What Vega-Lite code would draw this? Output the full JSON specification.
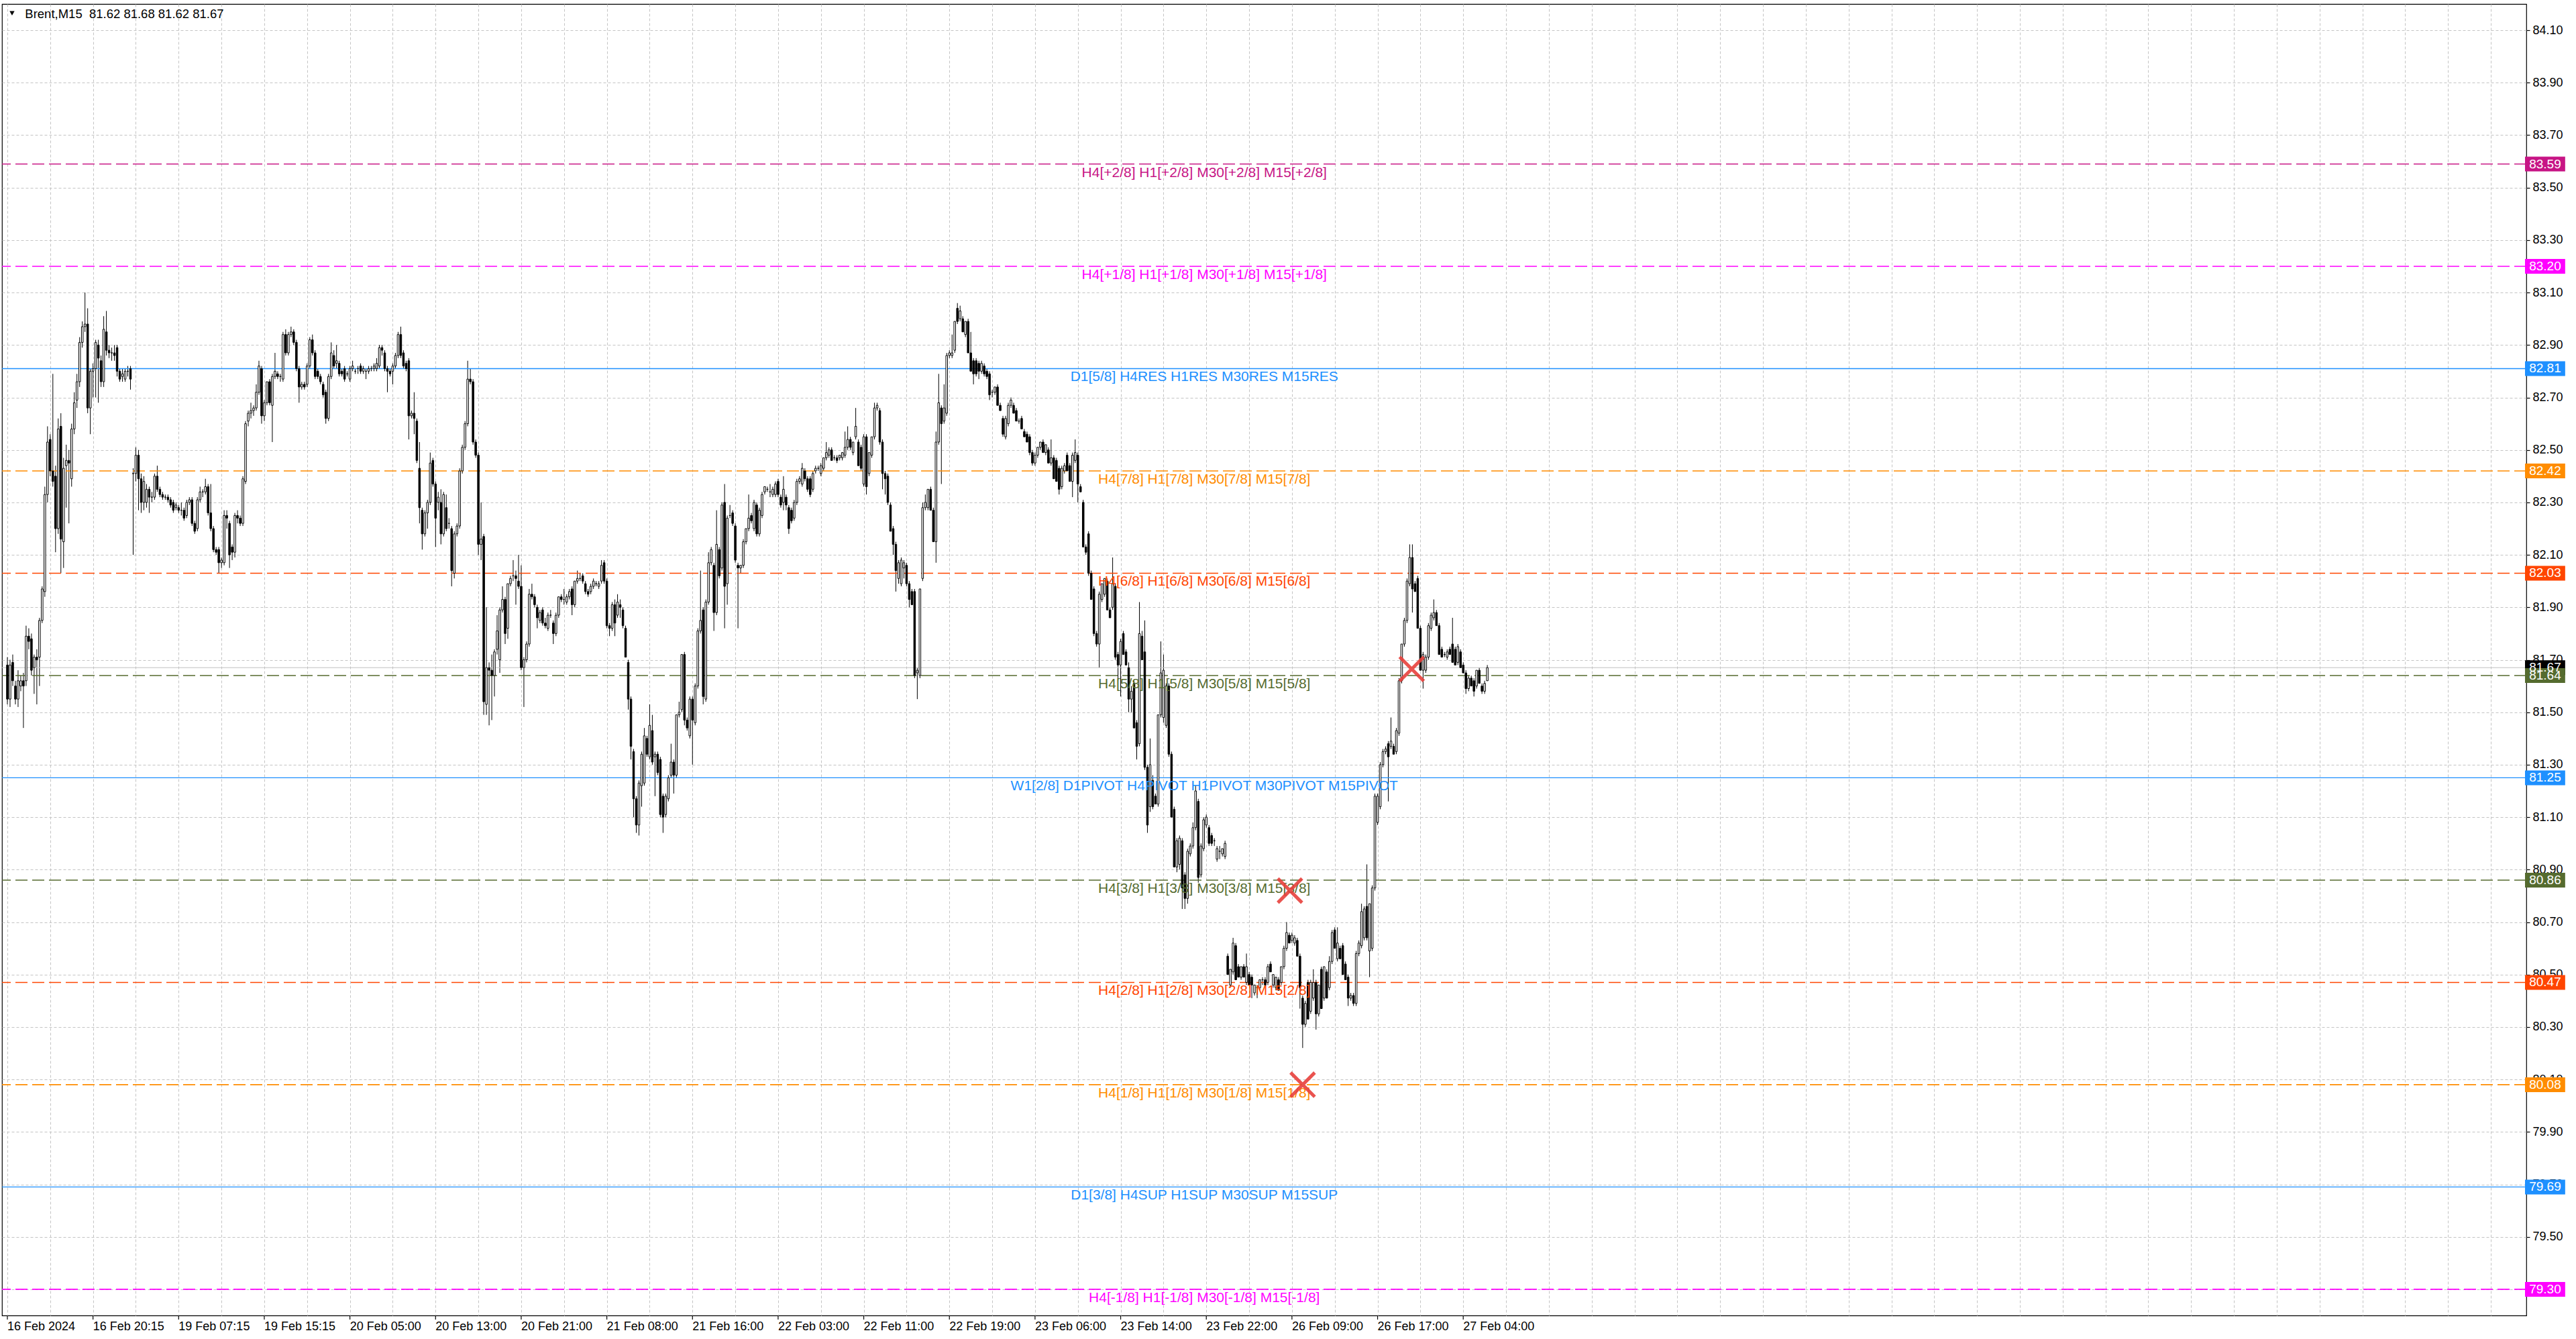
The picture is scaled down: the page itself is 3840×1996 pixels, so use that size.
{
"$schema":"https://vega.github.io/schema/vega-lite/v6.json",
"width":3763,"height":1955,
"autosize":{"type":"none"},
"padding":{"left":3,"top":6,"right":74,"bottom":35},
"background":"white",
"config":{"view":{"stroke":"black","strokeWidth":1.2},"font":"Liberation Sans",
 "axisX":{"title":null,"labels":false,"ticks":false,"domain":false,"grid":true,"gridColor":"#c4c4c4","gridDash":[4,3],"gridWidth":1},
 "axisY":{"title":null,"domain":false,"labelFontSize":18,"labelColor":"black","labelPadding":4,"labelOverlap":false,"labelFlush":false,"labelBound":false,"tickColor":"black","tickSize":5,"tickWidth":1.2,"grid":true,"gridColor":"#c4c4c4","gridDash":[4,3],"gridWidth":1}},
"datasets":{
"levels":[
{"lvl":"price","kind":"current","p":81.67,"label":""},
{"lvl":"+2/8","kind":"murrey","p":83.59,"label":"H4[+2/8] H1[+2/8] M30[+2/8] M15[+2/8]"},
{"lvl":"+1/8","kind":"murrey","p":83.20,"label":"H4[+1/8] H1[+1/8] M30[+1/8] M15[+1/8]"},
{"lvl":"RES","kind":"pivot","p":82.81,"label":"D1[5/8] H4RES H1RES M30RES M15RES"},
{"lvl":"7/8","kind":"murrey","p":82.42,"label":"H4[7/8] H1[7/8] M30[7/8] M15[7/8]"},
{"lvl":"6/8","kind":"murrey","p":82.03,"label":"H4[6/8] H1[6/8] M30[6/8] M15[6/8]"},
{"lvl":"5/8","kind":"murrey","p":81.64,"label":"H4[5/8] H1[5/8] M30[5/8] M15[5/8]"},
{"lvl":"PIVOT","kind":"pivot","p":81.25,"label":"W1[2/8] D1PIVOT H4PIVOT H1PIVOT M30PIVOT M15PIVOT"},
{"lvl":"3/8","kind":"murrey","p":80.86,"label":"H4[3/8] H1[3/8] M30[3/8] M15[3/8]"},
{"lvl":"2/8","kind":"murrey","p":80.47,"label":"H4[2/8] H1[2/8] M30[2/8] M15[2/8]"},
{"lvl":"1/8","kind":"murrey","p":80.08,"label":"H4[1/8] H1[1/8] M30[1/8] M15[1/8]"},
{"lvl":"SUP","kind":"pivot","p":79.69,"label":"D1[3/8] H4SUP H1SUP M30SUP M15SUP"},
{"lvl":"-1/8","kind":"murrey","p":79.30,"label":"H4[-1/8] H1[-1/8] M30[-1/8] M15[-1/8]"}
],
"signals":[{"i":479.25,"p":80.82},{"i":484,"p":80.08},{"i":524.75,"p":81.665}],
"ticks":[
{"t":0,"name":"16 Feb 2024"},{"t":32,"name":"16 Feb 20:15"},{"t":64,"name":"19 Feb 07:15"},{"t":96,"name":"19 Feb 15:15"},{"t":128,"name":"20 Feb 05:00"},{"t":160,"name":"20 Feb 13:00"},{"t":192,"name":"20 Feb 21:00"},{"t":224,"name":"21 Feb 08:00"},{"t":256,"name":"21 Feb 16:00"},{"t":288,"name":"22 Feb 03:00"},{"t":320,"name":"22 Feb 11:00"},{"t":352,"name":"22 Feb 19:00"},{"t":384,"name":"23 Feb 06:00"},{"t":416,"name":"23 Feb 14:00"},{"t":448,"name":"23 Feb 22:00"},{"t":480,"name":"26 Feb 09:00"},{"t":512,"name":"26 Feb 17:00"},{"t":544,"name":"27 Feb 04:00"}
],
"bars":[
{"i":0,"o":81.68,"h":81.71,"l":81.53,"c":81.55},
{"i":1,"o":81.55,"h":81.70,"l":81.52,"c":81.68},
{"i":2,"o":81.69,"h":81.72,"l":81.60,"c":81.62},
{"i":3,"o":81.60,"h":81.62,"l":81.53,"c":81.55},
{"i":4,"o":81.55,"h":81.66,"l":81.52,"c":81.62},
{"i":5,"o":81.60,"h":81.64,"l":81.58,"c":81.62},
{"i":6,"o":81.62,"h":81.65,"l":81.44,"c":81.60},
{"i":7,"o":81.62,"h":81.83,"l":81.60,"c":81.79},
{"i":8,"o":81.79,"h":81.82,"l":81.74,"c":81.77},
{"i":9,"o":81.78,"h":81.80,"l":81.64,"c":81.66},
{"i":10,"o":81.67,"h":81.72,"l":81.57,"c":81.71},
{"i":11,"o":81.71,"h":81.74,"l":81.53,"c":81.70},
{"i":12,"o":81.71,"h":81.86,"l":81.60,"c":81.85},
{"i":13,"o":81.85,"h":81.98,"l":81.84,"c":81.97},
{"i":14,"o":81.96,"h":82.36,"l":81.94,"c":82.33},
{"i":15,"o":82.33,"h":82.59,"l":82.30,"c":82.53},
{"i":16,"o":82.54,"h":82.56,"l":82.40,"c":82.42},
{"i":17,"o":82.42,"h":82.79,"l":82.36,"c":82.38},
{"i":18,"o":82.40,"h":82.44,"l":82.11,"c":82.20},
{"i":19,"o":82.20,"h":82.62,"l":82.18,"c":82.58},
{"i":20,"o":82.59,"h":82.64,"l":82.03,"c":82.16},
{"i":21,"o":82.15,"h":82.47,"l":82.05,"c":82.43},
{"i":22,"o":82.44,"h":82.52,"l":82.28,"c":82.46},
{"i":23,"o":82.46,"h":82.50,"l":82.22,"c":82.45},
{"i":24,"o":82.39,"h":82.60,"l":82.36,"c":82.58},
{"i":25,"o":82.58,"h":82.72,"l":82.56,"c":82.68},
{"i":26,"o":82.69,"h":82.79,"l":82.66,"c":82.76},
{"i":27,"o":82.76,"h":82.93,"l":82.74,"c":82.91},
{"i":28,"o":82.91,"h":82.99,"l":82.89,"c":82.97},
{"i":29,"o":82.97,"h":83.10,"l":82.95,"c":82.98},
{"i":30,"o":82.98,"h":83.04,"l":82.64,"c":82.66},
{"i":31,"o":82.66,"h":82.81,"l":82.56,"c":82.80},
{"i":32,"o":82.80,"h":82.83,"l":82.70,"c":82.81},
{"i":33,"o":82.81,"h":82.92,"l":82.70,"c":82.91},
{"i":34,"o":82.90,"h":82.92,"l":82.68,"c":82.85},
{"i":35,"o":82.84,"h":82.86,"l":82.74,"c":82.76},
{"i":36,"o":82.76,"h":83.01,"l":82.74,"c":82.96},
{"i":37,"o":82.95,"h":83.03,"l":82.86,"c":82.88},
{"i":38,"o":82.88,"h":82.90,"l":82.85,"c":82.87},
{"i":39,"o":82.87,"h":82.89,"l":82.84,"c":82.87},
{"i":40,"o":82.87,"h":82.90,"l":82.84,"c":82.86},
{"i":41,"o":82.89,"h":82.90,"l":82.78,"c":82.80},
{"i":42,"o":82.80,"h":82.81,"l":82.76,"c":82.77},
{"i":43,"o":82.78,"h":82.81,"l":82.76,"c":82.79},
{"i":44,"o":82.77,"h":82.81,"l":82.76,"c":82.80},
{"i":45,"o":82.80,"h":82.82,"l":82.78,"c":82.80},
{"i":46,"o":82.81,"h":82.82,"l":82.73,"c":82.77},
{"i":47,"o":82.41,"h":82.43,"l":82.10,"c":82.41},
{"i":48,"o":82.41,"h":82.51,"l":82.38,"c":82.48},
{"i":49,"o":82.48,"h":82.50,"l":82.27,"c":82.39},
{"i":50,"o":82.39,"h":82.41,"l":82.26,"c":82.30},
{"i":51,"o":82.30,"h":82.40,"l":82.27,"c":82.38},
{"i":52,"o":82.30,"h":82.37,"l":82.28,"c":82.35},
{"i":53,"o":82.35,"h":82.36,"l":82.26,"c":82.32},
{"i":54,"o":82.32,"h":82.34,"l":82.30,"c":82.32},
{"i":55,"o":82.32,"h":82.41,"l":82.31,"c":82.40},
{"i":56,"o":82.40,"h":82.44,"l":82.34,"c":82.35},
{"i":57,"o":82.35,"h":82.36,"l":82.32,"c":82.33},
{"i":58,"o":82.33,"h":82.34,"l":82.31,"c":82.32},
{"i":59,"o":82.32,"h":82.33,"l":82.31,"c":82.32},
{"i":60,"o":82.32,"h":82.33,"l":82.30,"c":82.31},
{"i":61,"o":82.31,"h":82.32,"l":82.28,"c":82.29},
{"i":62,"o":82.30,"h":82.31,"l":82.26,"c":82.27},
{"i":63,"o":82.28,"h":82.30,"l":82.27,"c":82.29},
{"i":64,"o":82.28,"h":82.29,"l":82.26,"c":82.27},
{"i":65,"o":82.27,"h":82.30,"l":82.25,"c":82.27},
{"i":66,"o":82.27,"h":82.28,"l":82.23,"c":82.24},
{"i":67,"o":82.25,"h":82.31,"l":82.24,"c":82.30},
{"i":68,"o":82.30,"h":82.32,"l":82.29,"c":82.31},
{"i":69,"o":82.31,"h":82.32,"l":82.21,"c":82.22},
{"i":70,"o":82.22,"h":82.23,"l":82.18,"c":82.19},
{"i":71,"o":82.20,"h":82.32,"l":82.19,"c":82.31},
{"i":72,"o":82.31,"h":82.36,"l":82.30,"c":82.34},
{"i":73,"o":82.34,"h":82.35,"l":82.32,"c":82.34},
{"i":74,"o":82.34,"h":82.39,"l":82.33,"c":82.36},
{"i":75,"o":82.36,"h":82.37,"l":82.25,"c":82.26},
{"i":76,"o":82.26,"h":82.37,"l":82.19,"c":82.20},
{"i":77,"o":82.20,"h":82.21,"l":82.11,"c":82.12},
{"i":78,"o":82.12,"h":82.13,"l":82.10,"c":82.11},
{"i":79,"o":82.12,"h":82.13,"l":82.03,"c":82.07},
{"i":80,"o":82.07,"h":82.09,"l":82.05,"c":82.08},
{"i":81,"o":82.07,"h":82.27,"l":82.06,"c":82.25},
{"i":82,"o":82.25,"h":82.27,"l":82.20,"c":82.24},
{"i":83,"o":82.22,"h":82.23,"l":82.05,"c":82.10},
{"i":84,"o":82.13,"h":82.14,"l":82.08,"c":82.11},
{"i":85,"o":82.11,"h":82.26,"l":82.09,"c":82.25},
{"i":86,"o":82.25,"h":82.27,"l":82.22,"c":82.24},
{"i":87,"o":82.24,"h":82.25,"l":82.21,"c":82.22},
{"i":88,"o":82.22,"h":82.40,"l":82.21,"c":82.39},
{"i":89,"o":82.38,"h":82.61,"l":82.37,"c":82.60},
{"i":90,"o":82.61,"h":82.65,"l":82.59,"c":82.64},
{"i":91,"o":82.64,"h":82.68,"l":82.62,"c":82.65},
{"i":92,"o":82.65,"h":82.67,"l":82.63,"c":82.66},
{"i":93,"o":82.66,"h":82.75,"l":82.65,"c":82.72},
{"i":94,"o":82.72,"h":82.84,"l":82.71,"c":82.82},
{"i":95,"o":82.81,"h":82.82,"l":82.60,"c":82.63},
{"i":96,"o":82.63,"h":82.69,"l":82.61,"c":82.68},
{"i":97,"o":82.68,"h":82.76,"l":82.67,"c":82.76},
{"i":98,"o":82.76,"h":82.77,"l":82.67,"c":82.68},
{"i":99,"o":82.67,"h":82.79,"l":82.53,"c":82.78},
{"i":100,"o":82.78,"h":82.87,"l":82.77,"c":82.80},
{"i":101,"o":82.79,"h":82.80,"l":82.77,"c":82.78},
{"i":102,"o":82.78,"h":82.79,"l":82.76,"c":82.78},
{"i":103,"o":82.77,"h":82.95,"l":82.76,"c":82.94},
{"i":104,"o":82.94,"h":82.96,"l":82.86,"c":82.87},
{"i":105,"o":82.87,"h":82.95,"l":82.86,"c":82.94},
{"i":106,"o":82.94,"h":82.97,"l":82.93,"c":82.95},
{"i":107,"o":82.95,"h":82.96,"l":82.90,"c":82.91},
{"i":108,"o":82.91,"h":82.92,"l":82.80,"c":82.81},
{"i":109,"o":82.81,"h":82.82,"l":82.68,"c":82.74},
{"i":110,"o":82.74,"h":82.76,"l":82.73,"c":82.75},
{"i":111,"o":82.75,"h":82.76,"l":82.73,"c":82.74},
{"i":112,"o":82.75,"h":82.83,"l":82.74,"c":82.82},
{"i":113,"o":82.82,"h":82.93,"l":82.81,"c":82.92},
{"i":114,"o":82.92,"h":82.94,"l":82.86,"c":82.87},
{"i":115,"o":82.87,"h":82.88,"l":82.77,"c":82.78},
{"i":116,"o":82.80,"h":82.81,"l":82.77,"c":82.78},
{"i":117,"o":82.78,"h":82.79,"l":82.75,"c":82.76},
{"i":118,"o":82.75,"h":82.76,"l":82.70,"c":82.71},
{"i":119,"o":82.72,"h":82.73,"l":82.60,"c":82.62},
{"i":120,"o":82.62,"h":82.79,"l":82.61,"c":82.78},
{"i":121,"o":82.78,"h":82.91,"l":82.77,"c":82.87},
{"i":122,"o":82.86,"h":82.88,"l":82.81,"c":82.82},
{"i":123,"o":82.83,"h":82.90,"l":82.81,"c":82.84},
{"i":124,"o":82.83,"h":82.84,"l":82.78,"c":82.79},
{"i":125,"o":82.80,"h":82.81,"l":82.78,"c":82.79},
{"i":126,"o":82.81,"h":82.82,"l":82.76,"c":82.77},
{"i":127,"o":82.79,"h":82.80,"l":82.78,"c":82.79},
{"i":128,"o":82.77,"h":82.82,"l":82.76,"c":82.81},
{"i":129,"o":82.81,"h":82.84,"l":82.80,"c":82.82},
{"i":130,"o":82.80,"h":82.81,"l":82.79,"c":82.80},
{"i":131,"o":82.81,"h":82.82,"l":82.79,"c":82.81},
{"i":132,"o":82.82,"h":82.83,"l":82.79,"c":82.80},
{"i":133,"o":82.80,"h":82.82,"l":82.79,"c":82.81},
{"i":134,"o":82.80,"h":82.81,"l":82.77,"c":82.80},
{"i":135,"o":82.80,"h":82.82,"l":82.79,"c":82.81},
{"i":136,"o":82.81,"h":82.82,"l":82.80,"c":82.81},
{"i":137,"o":82.81,"h":82.83,"l":82.80,"c":82.82},
{"i":138,"o":82.81,"h":82.85,"l":82.80,"c":82.83},
{"i":139,"o":82.82,"h":82.90,"l":82.81,"c":82.89},
{"i":140,"o":82.89,"h":82.90,"l":82.86,"c":82.88},
{"i":141,"o":82.87,"h":82.88,"l":82.80,"c":82.81},
{"i":142,"o":82.81,"h":82.82,"l":82.72,"c":82.80},
{"i":143,"o":82.80,"h":82.81,"l":82.78,"c":82.79},
{"i":144,"o":82.80,"h":82.83,"l":82.75,"c":82.82},
{"i":145,"o":82.82,"h":82.87,"l":82.81,"c":82.86},
{"i":146,"o":82.86,"h":82.95,"l":82.85,"c":82.94},
{"i":147,"o":82.94,"h":82.97,"l":82.85,"c":82.86},
{"i":148,"o":82.87,"h":82.88,"l":82.81,"c":82.82},
{"i":149,"o":82.83,"h":82.84,"l":82.80,"c":82.81},
{"i":150,"o":82.84,"h":82.85,"l":82.54,"c":82.63},
{"i":151,"o":82.63,"h":82.65,"l":82.62,"c":82.64},
{"i":152,"o":82.64,"h":82.72,"l":82.56,"c":82.62},
{"i":153,"o":82.61,"h":82.62,"l":82.45,"c":82.46},
{"i":154,"o":82.43,"h":82.53,"l":82.22,"c":82.28},
{"i":155,"o":82.27,"h":82.28,"l":82.12,"c":82.18},
{"i":156,"o":82.18,"h":82.27,"l":82.17,"c":82.26},
{"i":157,"o":82.26,"h":82.31,"l":82.20,"c":82.30},
{"i":158,"o":82.30,"h":82.49,"l":82.29,"c":82.45},
{"i":159,"o":82.46,"h":82.47,"l":82.36,"c":82.37},
{"i":160,"o":82.37,"h":82.38,"l":82.13,"c":82.24},
{"i":161,"o":82.30,"h":82.34,"l":82.27,"c":82.32},
{"i":162,"o":82.30,"h":82.35,"l":82.14,"c":82.18},
{"i":163,"o":82.18,"h":82.34,"l":82.17,"c":82.33},
{"i":164,"o":82.28,"h":82.33,"l":82.19,"c":82.20},
{"i":165,"o":82.22,"h":82.24,"l":82.20,"c":82.22},
{"i":166,"o":82.20,"h":82.21,"l":81.98,"c":82.04},
{"i":167,"o":82.03,"h":82.19,"l":82.01,"c":82.18},
{"i":168,"o":82.18,"h":82.22,"l":82.17,"c":82.21},
{"i":169,"o":82.21,"h":82.43,"l":82.20,"c":82.42},
{"i":170,"o":82.42,"h":82.52,"l":82.41,"c":82.51},
{"i":171,"o":82.51,"h":82.61,"l":82.50,"c":82.60},
{"i":172,"o":82.60,"h":82.84,"l":82.59,"c":82.77},
{"i":173,"o":82.77,"h":82.81,"l":82.75,"c":82.76},
{"i":174,"o":82.76,"h":82.77,"l":82.52,"c":82.53},
{"i":175,"o":82.53,"h":82.54,"l":82.47,"c":82.48},
{"i":176,"o":82.48,"h":82.49,"l":82.10,"c":82.14},
{"i":177,"o":82.14,"h":82.30,"l":82.08,"c":82.16},
{"i":178,"o":82.17,"h":82.18,"l":81.49,"c":81.54},
{"i":179,"o":81.53,"h":81.90,"l":81.49,"c":81.67},
{"i":180,"o":81.67,"h":81.69,"l":81.45,"c":81.66},
{"i":181,"o":81.66,"h":81.72,"l":81.47,"c":81.64},
{"i":182,"o":81.64,"h":81.74,"l":81.56,"c":81.73},
{"i":183,"o":81.74,"h":81.87,"l":81.72,"c":81.81},
{"i":184,"o":81.70,"h":81.90,"l":81.65,"c":81.89},
{"i":185,"o":81.89,"h":81.98,"l":81.88,"c":81.93},
{"i":186,"o":81.93,"h":81.94,"l":81.76,"c":81.80},
{"i":187,"o":81.82,"h":81.99,"l":81.78,"c":81.99},
{"i":188,"o":81.99,"h":82.02,"l":81.98,"c":82.01},
{"i":189,"o":82.02,"h":82.08,"l":82.00,"c":82.02},
{"i":190,"o":82.02,"h":82.04,"l":81.91,"c":82.01},
{"i":191,"o":82.00,"h":82.10,"l":81.97,"c":81.98},
{"i":192,"o":81.98,"h":82.06,"l":81.66,"c":81.67},
{"i":193,"o":81.67,"h":81.71,"l":81.52,"c":81.70},
{"i":194,"o":81.70,"h":81.77,"l":81.69,"c":81.76},
{"i":195,"o":81.76,"h":81.97,"l":81.75,"c":81.95},
{"i":196,"o":81.95,"h":81.99,"l":81.93,"c":81.94},
{"i":197,"o":81.94,"h":81.95,"l":81.90,"c":81.91},
{"i":198,"o":81.90,"h":81.91,"l":81.82,"c":81.86},
{"i":199,"o":81.85,"h":81.89,"l":81.84,"c":81.88},
{"i":200,"o":81.89,"h":81.90,"l":81.83,"c":81.84},
{"i":201,"o":81.84,"h":81.86,"l":81.82,"c":81.83},
{"i":202,"o":81.82,"h":81.88,"l":81.81,"c":81.87},
{"i":203,"o":81.87,"h":81.89,"l":81.86,"c":81.87},
{"i":204,"o":81.84,"h":81.85,"l":81.76,"c":81.80},
{"i":205,"o":81.80,"h":81.88,"l":81.79,"c":81.87},
{"i":206,"o":81.87,"h":81.94,"l":81.86,"c":81.94},
{"i":207,"o":81.94,"h":81.95,"l":81.92,"c":81.93},
{"i":208,"o":81.93,"h":81.97,"l":81.91,"c":81.93},
{"i":209,"o":81.92,"h":81.95,"l":81.91,"c":81.94},
{"i":210,"o":81.94,"h":81.97,"l":81.93,"c":81.96},
{"i":211,"o":81.97,"h":81.98,"l":81.87,"c":81.91},
{"i":212,"o":81.91,"h":82.00,"l":81.90,"c":82.00},
{"i":213,"o":82.00,"h":82.04,"l":81.99,"c":82.01},
{"i":214,"o":82.01,"h":82.03,"l":82.00,"c":82.01},
{"i":215,"o":82.02,"h":82.03,"l":81.99,"c":82.00},
{"i":216,"o":81.99,"h":82.00,"l":81.95,"c":81.96},
{"i":217,"o":81.96,"h":81.97,"l":81.94,"c":81.95},
{"i":218,"o":81.96,"h":81.99,"l":81.95,"c":81.98},
{"i":219,"o":81.98,"h":82.01,"l":81.97,"c":82.00},
{"i":220,"o":81.99,"h":82.00,"l":81.98,"c":81.99},
{"i":221,"o":81.98,"h":82.00,"l":81.97,"c":81.99},
{"i":222,"o":82.00,"h":82.08,"l":81.99,"c":82.06},
{"i":223,"o":82.07,"h":82.08,"l":81.99,"c":82.00},
{"i":224,"o":82.00,"h":82.01,"l":81.82,"c":81.83},
{"i":225,"o":81.83,"h":81.84,"l":81.79,"c":81.82},
{"i":226,"o":81.82,"h":81.92,"l":81.81,"c":81.91},
{"i":227,"o":81.91,"h":81.93,"l":81.79,"c":81.84},
{"i":228,"o":81.87,"h":81.95,"l":81.86,"c":81.92},
{"i":229,"o":81.91,"h":81.93,"l":81.86,"c":81.90},
{"i":230,"o":81.89,"h":81.90,"l":81.82,"c":81.83},
{"i":231,"o":81.82,"h":81.83,"l":81.71,"c":81.71},
{"i":232,"o":81.69,"h":81.70,"l":81.51,"c":81.55},
{"i":233,"o":81.55,"h":81.56,"l":81.32,"c":81.37},
{"i":234,"o":81.35,"h":81.36,"l":81.10,"c":81.17},
{"i":235,"o":81.17,"h":81.18,"l":81.04,"c":81.07},
{"i":236,"o":81.07,"h":81.24,"l":81.03,"c":81.23},
{"i":237,"o":81.22,"h":81.35,"l":81.14,"c":81.34},
{"i":238,"o":81.23,"h":81.44,"l":81.22,"c":81.41},
{"i":239,"o":81.40,"h":81.41,"l":81.33,"c":81.34},
{"i":240,"o":81.33,"h":81.53,"l":81.32,"c":81.45},
{"i":241,"o":81.43,"h":81.49,"l":81.30,"c":81.31},
{"i":242,"o":81.33,"h":81.35,"l":81.18,"c":81.34},
{"i":243,"o":81.34,"h":81.35,"l":81.26,"c":81.27},
{"i":244,"o":81.32,"h":81.33,"l":81.10,"c":81.11},
{"i":245,"o":81.18,"h":81.19,"l":81.04,"c":81.10},
{"i":246,"o":81.11,"h":81.19,"l":81.10,"c":81.18},
{"i":247,"o":81.17,"h":81.26,"l":81.16,"c":81.25},
{"i":248,"o":81.26,"h":81.38,"l":81.25,"c":81.31},
{"i":249,"o":81.31,"h":81.32,"l":81.19,"c":81.26},
{"i":250,"o":81.26,"h":81.49,"l":81.25,"c":81.49},
{"i":251,"o":81.49,"h":81.54,"l":81.48,"c":81.50},
{"i":252,"o":81.51,"h":81.72,"l":81.50,"c":81.72},
{"i":253,"o":81.72,"h":81.73,"l":81.45,"c":81.47},
{"i":254,"o":81.47,"h":81.48,"l":81.43,"c":81.44},
{"i":255,"o":81.41,"h":81.56,"l":81.40,"c":81.55},
{"i":256,"o":81.55,"h":81.56,"l":81.30,"c":81.47},
{"i":257,"o":81.46,"h":81.61,"l":81.45,"c":81.60},
{"i":258,"o":81.60,"h":81.82,"l":81.59,"c":81.81},
{"i":259,"o":81.81,"h":82.04,"l":81.80,"c":81.85},
{"i":260,"o":81.89,"h":81.90,"l":81.53,"c":81.56},
{"i":261,"o":81.55,"h":81.93,"l":81.54,"c":81.92},
{"i":262,"o":81.92,"h":82.11,"l":81.91,"c":82.07},
{"i":263,"o":82.07,"h":82.13,"l":82.06,"c":82.12},
{"i":264,"o":82.06,"h":82.07,"l":81.81,"c":81.88},
{"i":265,"o":81.88,"h":82.27,"l":81.87,"c":82.14},
{"i":266,"o":82.12,"h":82.13,"l":82.01,"c":82.02},
{"i":267,"o":82.05,"h":82.30,"l":82.04,"c":82.29},
{"i":268,"o":82.30,"h":82.37,"l":81.82,"c":81.98},
{"i":269,"o":81.99,"h":82.25,"l":81.91,"c":82.24},
{"i":270,"o":82.25,"h":82.29,"l":82.24,"c":82.25},
{"i":271,"o":82.26,"h":82.27,"l":82.21,"c":82.22},
{"i":272,"o":82.21,"h":82.22,"l":82.07,"c":82.08},
{"i":273,"o":82.06,"h":82.07,"l":81.82,"c":82.05},
{"i":274,"o":82.05,"h":82.06,"l":82.03,"c":82.06},
{"i":275,"o":82.06,"h":82.16,"l":82.05,"c":82.15},
{"i":276,"o":82.15,"h":82.20,"l":82.14,"c":82.20},
{"i":277,"o":82.20,"h":82.33,"l":82.19,"c":82.24},
{"i":278,"o":82.25,"h":82.26,"l":82.22,"c":82.23},
{"i":279,"o":82.20,"h":82.31,"l":82.19,"c":82.30},
{"i":280,"o":82.29,"h":82.30,"l":82.17,"c":82.18},
{"i":281,"o":82.18,"h":82.28,"l":82.17,"c":82.27},
{"i":282,"o":82.25,"h":82.34,"l":82.24,"c":82.33},
{"i":283,"o":82.34,"h":82.36,"l":82.33,"c":82.36},
{"i":284,"o":82.35,"h":82.36,"l":82.34,"c":82.35},
{"i":285,"o":82.34,"h":82.37,"l":82.32,"c":82.34},
{"i":286,"o":82.33,"h":82.36,"l":82.32,"c":82.35},
{"i":287,"o":82.33,"h":82.38,"l":82.32,"c":82.37},
{"i":288,"o":82.38,"h":82.39,"l":82.32,"c":82.33},
{"i":289,"o":82.32,"h":82.33,"l":82.28,"c":82.29},
{"i":290,"o":82.30,"h":82.40,"l":82.27,"c":82.35},
{"i":291,"o":82.32,"h":82.33,"l":82.27,"c":82.29},
{"i":292,"o":82.28,"h":82.29,"l":82.18,"c":82.20},
{"i":293,"o":82.27,"h":82.28,"l":82.22,"c":82.23},
{"i":294,"o":82.24,"h":82.31,"l":82.23,"c":82.30},
{"i":295,"o":82.30,"h":82.39,"l":82.29,"c":82.38},
{"i":296,"o":82.38,"h":82.40,"l":82.37,"c":82.39},
{"i":297,"o":82.37,"h":82.45,"l":82.36,"c":82.43},
{"i":298,"o":82.42,"h":82.43,"l":82.38,"c":82.39},
{"i":299,"o":82.39,"h":82.40,"l":82.34,"c":82.35},
{"i":300,"o":82.39,"h":82.40,"l":82.32,"c":82.33},
{"i":301,"o":82.35,"h":82.42,"l":82.34,"c":82.41},
{"i":302,"o":82.42,"h":82.44,"l":82.41,"c":82.43},
{"i":303,"o":82.43,"h":82.44,"l":82.42,"c":82.43},
{"i":304,"o":82.41,"h":82.45,"l":82.40,"c":82.44},
{"i":305,"o":82.43,"h":82.47,"l":82.42,"c":82.47},
{"i":306,"o":82.47,"h":82.53,"l":82.46,"c":82.49},
{"i":307,"o":82.48,"h":82.51,"l":82.47,"c":82.50},
{"i":308,"o":82.50,"h":82.51,"l":82.46,"c":82.46},
{"i":309,"o":82.47,"h":82.48,"l":82.46,"c":82.47},
{"i":310,"o":82.47,"h":82.48,"l":82.45,"c":82.46},
{"i":311,"o":82.47,"h":82.48,"l":82.46,"c":82.48},
{"i":312,"o":82.47,"h":82.49,"l":82.46,"c":82.49},
{"i":313,"o":82.48,"h":82.57,"l":82.47,"c":82.51},
{"i":314,"o":82.51,"h":82.59,"l":82.50,"c":82.54},
{"i":315,"o":82.54,"h":82.55,"l":82.50,"c":82.51},
{"i":316,"o":82.49,"h":82.53,"l":82.48,"c":82.53},
{"i":317,"o":82.55,"h":82.66,"l":82.54,"c":82.59},
{"i":318,"o":82.53,"h":82.54,"l":82.44,"c":82.44},
{"i":319,"o":82.51,"h":82.52,"l":82.42,"c":82.43},
{"i":320,"o":82.37,"h":82.56,"l":82.36,"c":82.55},
{"i":321,"o":82.55,"h":82.56,"l":82.33,"c":82.36},
{"i":322,"o":82.41,"h":82.49,"l":82.40,"c":82.49},
{"i":323,"o":82.48,"h":82.55,"l":82.47,"c":82.55},
{"i":324,"o":82.55,"h":82.68,"l":82.54,"c":82.66},
{"i":325,"o":82.66,"h":82.68,"l":82.65,"c":82.67},
{"i":326,"o":82.65,"h":82.66,"l":82.52,"c":82.53},
{"i":327,"o":82.53,"h":82.54,"l":82.35,"c":82.41},
{"i":328,"o":82.41,"h":82.42,"l":82.33,"c":82.39},
{"i":329,"o":82.40,"h":82.41,"l":82.29,"c":82.30},
{"i":330,"o":82.29,"h":82.30,"l":82.19,"c":82.19},
{"i":331,"o":82.20,"h":82.21,"l":82.10,"c":82.14},
{"i":332,"o":82.14,"h":82.15,"l":81.96,"c":82.04},
{"i":333,"o":82.01,"h":82.08,"l":81.99,"c":82.07},
{"i":334,"o":81.99,"h":82.09,"l":81.98,"c":82.08},
{"i":335,"o":82.05,"h":82.08,"l":82.01,"c":82.07},
{"i":336,"o":82.06,"h":82.07,"l":81.98,"c":81.99},
{"i":337,"o":81.99,"h":82.00,"l":81.90,"c":81.93},
{"i":338,"o":81.96,"h":81.97,"l":81.91,"c":81.91},
{"i":339,"o":81.96,"h":81.97,"l":81.63,"c":81.64},
{"i":340,"o":81.65,"h":81.67,"l":81.55,"c":81.66},
{"i":341,"o":81.64,"h":81.97,"l":81.63,"c":81.97},
{"i":342,"o":82.01,"h":82.30,"l":82.00,"c":82.28},
{"i":343,"o":82.28,"h":82.33,"l":82.27,"c":82.30},
{"i":344,"o":82.28,"h":82.35,"l":82.27,"c":82.35},
{"i":345,"o":82.35,"h":82.36,"l":82.27,"c":82.27},
{"i":346,"o":82.27,"h":82.28,"l":82.15,"c":82.15},
{"i":347,"o":82.15,"h":82.57,"l":82.07,"c":82.53},
{"i":348,"o":82.53,"h":82.79,"l":82.52,"c":82.68},
{"i":349,"o":82.66,"h":82.67,"l":82.37,"c":82.60},
{"i":350,"o":82.61,"h":82.75,"l":82.60,"c":82.66},
{"i":351,"o":82.64,"h":82.87,"l":82.63,"c":82.86},
{"i":352,"o":82.86,"h":82.88,"l":82.85,"c":82.87},
{"i":353,"o":82.86,"h":82.94,"l":82.85,"c":82.87},
{"i":354,"o":82.88,"h":82.99,"l":82.87,"c":82.99},
{"i":355,"o":83.04,"h":83.06,"l":82.98,"c":82.99},
{"i":356,"o":83.00,"h":83.05,"l":82.99,"c":83.03},
{"i":357,"o":83.00,"h":83.01,"l":82.95,"c":82.95},
{"i":358,"o":82.94,"h":82.99,"l":82.93,"c":82.99},
{"i":359,"o":82.99,"h":83.00,"l":82.87,"c":82.87},
{"i":360,"o":82.87,"h":82.95,"l":82.80,"c":82.80},
{"i":361,"o":82.84,"h":82.85,"l":82.75,"c":82.79},
{"i":362,"o":82.84,"h":82.85,"l":82.78,"c":82.79},
{"i":363,"o":82.83,"h":82.84,"l":82.77,"c":82.80},
{"i":364,"o":82.80,"h":82.84,"l":82.79,"c":82.83},
{"i":365,"o":82.82,"h":82.83,"l":82.78,"c":82.79},
{"i":366,"o":82.80,"h":82.81,"l":82.77,"c":82.78},
{"i":367,"o":82.79,"h":82.80,"l":82.69,"c":82.71},
{"i":368,"o":82.72,"h":82.73,"l":82.70,"c":82.72},
{"i":369,"o":82.72,"h":82.74,"l":82.71,"c":82.74},
{"i":370,"o":82.74,"h":82.75,"l":82.67,"c":82.67},
{"i":371,"o":82.67,"h":82.68,"l":82.65,"c":82.65},
{"i":372,"o":82.62,"h":82.63,"l":82.55,"c":82.56},
{"i":373,"o":82.55,"h":82.63,"l":82.54,"c":82.62},
{"i":374,"o":82.60,"h":82.68,"l":82.59,"c":82.67},
{"i":375,"o":82.67,"h":82.70,"l":82.66,"c":82.69},
{"i":376,"o":82.67,"h":82.68,"l":82.64,"c":82.64},
{"i":377,"o":82.65,"h":82.66,"l":82.61,"c":82.61},
{"i":378,"o":82.61,"h":82.62,"l":82.60,"c":82.61},
{"i":379,"o":82.62,"h":82.63,"l":82.58,"c":82.58},
{"i":380,"o":82.57,"h":82.58,"l":82.55,"c":82.55},
{"i":381,"o":82.56,"h":82.57,"l":82.53,"c":82.53},
{"i":382,"o":82.55,"h":82.56,"l":82.48,"c":82.49},
{"i":383,"o":82.49,"h":82.50,"l":82.44,"c":82.45},
{"i":384,"o":82.45,"h":82.49,"l":82.44,"c":82.48},
{"i":385,"o":82.48,"h":82.51,"l":82.47,"c":82.51},
{"i":386,"o":82.51,"h":82.53,"l":82.50,"c":82.53},
{"i":387,"o":82.53,"h":82.54,"l":82.49,"c":82.49},
{"i":388,"o":82.49,"h":82.52,"l":82.48,"c":82.52},
{"i":389,"o":82.50,"h":82.51,"l":82.45,"c":82.45},
{"i":390,"o":82.45,"h":82.54,"l":82.44,"c":82.47},
{"i":391,"o":82.47,"h":82.48,"l":82.39,"c":82.39},
{"i":392,"o":82.46,"h":82.47,"l":82.38,"c":82.38},
{"i":393,"o":82.43,"h":82.44,"l":82.33,"c":82.35},
{"i":394,"o":82.36,"h":82.44,"l":82.35,"c":82.43},
{"i":395,"o":82.42,"h":82.45,"l":82.41,"c":82.44},
{"i":396,"o":82.48,"h":82.49,"l":82.42,"c":82.42},
{"i":397,"o":82.44,"h":82.45,"l":82.38,"c":82.38},
{"i":398,"o":82.38,"h":82.49,"l":82.32,"c":82.48},
{"i":399,"o":82.46,"h":82.54,"l":82.45,"c":82.49},
{"i":400,"o":82.48,"h":82.49,"l":82.30,"c":82.37},
{"i":401,"o":82.36,"h":82.37,"l":82.34,"c":82.34},
{"i":402,"o":82.30,"h":82.31,"l":82.13,"c":82.13},
{"i":403,"o":82.13,"h":82.14,"l":82.10,"c":82.11},
{"i":404,"o":82.18,"h":82.19,"l":82.02,"c":82.03},
{"i":405,"o":82.03,"h":82.04,"l":81.93,"c":81.93},
{"i":406,"o":81.97,"h":81.98,"l":81.79,"c":81.80},
{"i":407,"o":81.80,"h":81.81,"l":81.75,"c":81.76},
{"i":408,"o":81.76,"h":81.96,"l":81.67,"c":81.95},
{"i":409,"o":81.93,"h":81.99,"l":81.92,"c":81.99},
{"i":410,"o":81.95,"h":82.01,"l":81.94,"c":82.01},
{"i":411,"o":82.00,"h":82.01,"l":81.89,"c":81.89},
{"i":412,"o":81.89,"h":81.90,"l":81.86,"c":81.86},
{"i":413,"o":81.90,"h":82.09,"l":81.89,"c":81.99},
{"i":414,"o":81.98,"h":81.99,"l":81.70,"c":81.71},
{"i":415,"o":81.72,"h":81.73,"l":81.62,"c":81.68},
{"i":416,"o":81.68,"h":81.78,"l":81.56,"c":81.77},
{"i":417,"o":81.80,"h":81.81,"l":81.72,"c":81.72},
{"i":418,"o":81.73,"h":81.74,"l":81.68,"c":81.68},
{"i":419,"o":81.67,"h":81.69,"l":81.50,"c":81.55},
{"i":420,"o":81.55,"h":81.60,"l":81.50,"c":81.58},
{"i":421,"o":81.61,"h":81.62,"l":81.44,"c":81.44},
{"i":422,"o":81.46,"h":81.47,"l":81.32,"c":81.37},
{"i":423,"o":81.38,"h":81.92,"l":81.37,"c":81.80},
{"i":424,"o":81.79,"h":81.81,"l":81.70,"c":81.70},
{"i":425,"o":81.73,"h":81.85,"l":81.28,"c":81.29},
{"i":426,"o":81.29,"h":81.30,"l":81.04,"c":81.07},
{"i":427,"o":81.14,"h":81.40,"l":81.12,"c":81.30},
{"i":428,"o":81.24,"h":81.26,"l":81.13,"c":81.14},
{"i":429,"o":81.18,"h":81.19,"l":81.15,"c":81.15},
{"i":430,"o":81.15,"h":81.49,"l":81.14,"c":81.49},
{"i":431,"o":81.49,"h":81.77,"l":81.48,"c":81.65},
{"i":432,"o":81.48,"h":81.72,"l":81.46,"c":81.66},
{"i":433,"o":81.45,"h":81.61,"l":81.44,"c":81.60},
{"i":434,"o":81.60,"h":81.61,"l":81.33,"c":81.34},
{"i":435,"o":81.34,"h":81.35,"l":81.10,"c":81.10},
{"i":436,"o":81.13,"h":81.14,"l":80.91,"c":80.91},
{"i":437,"o":80.91,"h":81.02,"l":80.89,"c":81.01},
{"i":438,"o":80.92,"h":81.03,"l":80.90,"c":81.02},
{"i":439,"o":81.01,"h":81.02,"l":80.75,"c":80.83},
{"i":440,"o":80.88,"h":80.89,"l":80.75,"c":80.79},
{"i":441,"o":80.79,"h":80.98,"l":80.77,"c":80.97},
{"i":442,"o":80.96,"h":81.00,"l":80.95,"c":80.99},
{"i":443,"o":80.99,"h":81.08,"l":80.98,"c":81.06},
{"i":444,"o":81.06,"h":81.22,"l":81.05,"c":81.20},
{"i":445,"o":81.16,"h":81.17,"l":80.85,"c":80.87},
{"i":446,"o":80.88,"h":81.00,"l":80.87,"c":80.99},
{"i":447,"o":80.98,"h":81.10,"l":80.97,"c":81.09},
{"i":448,"o":81.07,"h":81.11,"l":81.06,"c":81.10},
{"i":449,"o":81.06,"h":81.07,"l":80.99,"c":81.00},
{"i":450,"o":81.03,"h":81.04,"l":80.99,"c":81.00},
{"i":451,"o":81.01,"h":81.02,"l":80.99,"c":81.01},
{"i":452,"o":80.94,"h":80.99,"l":80.93,"c":80.98},
{"i":453,"o":80.97,"h":80.99,"l":80.94,"c":80.97},
{"i":454,"o":80.96,"h":80.98,"l":80.95,"c":80.98},
{"i":455,"o":80.95,"h":81.01,"l":80.94,"c":81.00},
{"i":456,"o":80.57,"h":80.58,"l":80.50,"c":80.50},
{"i":457,"o":80.46,"h":80.52,"l":80.45,"c":80.52},
{"i":458,"o":80.51,"h":80.64,"l":80.50,"c":80.62},
{"i":459,"o":80.61,"h":80.62,"l":80.48,"c":80.48},
{"i":460,"o":80.53,"h":80.54,"l":80.49,"c":80.49},
{"i":461,"o":80.49,"h":80.53,"l":80.48,"c":80.53},
{"i":462,"o":80.53,"h":80.54,"l":80.49,"c":80.49},
{"i":463,"o":80.47,"h":80.58,"l":80.46,"c":80.53},
{"i":464,"o":80.50,"h":80.51,"l":80.46,"c":80.46},
{"i":465,"o":80.49,"h":80.50,"l":80.41,"c":80.46},
{"i":466,"o":80.43,"h":80.46,"l":80.42,"c":80.46},
{"i":467,"o":80.45,"h":80.46,"l":80.41,"c":80.45},
{"i":468,"o":80.45,"h":80.48,"l":80.44,"c":80.48},
{"i":469,"o":80.48,"h":80.49,"l":80.46,"c":80.48},
{"i":470,"o":80.48,"h":80.49,"l":80.46,"c":80.46},
{"i":471,"o":80.47,"h":80.54,"l":80.46,"c":80.53},
{"i":472,"o":80.54,"h":80.55,"l":80.51,"c":80.51},
{"i":473,"o":80.46,"h":80.50,"l":80.45,"c":80.50},
{"i":474,"o":80.45,"h":80.49,"l":80.44,"c":80.49},
{"i":475,"o":80.48,"h":80.49,"l":80.44,"c":80.44},
{"i":476,"o":80.47,"h":80.53,"l":80.46,"c":80.53},
{"i":477,"o":80.53,"h":80.61,"l":80.52,"c":80.60},
{"i":478,"o":80.60,"h":80.70,"l":80.59,"c":80.66},
{"i":479,"o":80.65,"h":80.66,"l":80.62,"c":80.62},
{"i":480,"o":80.63,"h":80.66,"l":80.62,"c":80.65},
{"i":481,"o":80.62,"h":80.65,"l":80.61,"c":80.64},
{"i":482,"o":80.63,"h":80.64,"l":80.57,"c":80.57},
{"i":483,"o":80.57,"h":80.58,"l":80.37,"c":80.45},
{"i":484,"o":80.41,"h":80.42,"l":80.22,"c":80.31},
{"i":485,"o":80.31,"h":80.40,"l":80.30,"c":80.39},
{"i":486,"o":80.47,"h":80.48,"l":80.33,"c":80.33},
{"i":487,"o":80.36,"h":80.48,"l":80.35,"c":80.47},
{"i":488,"o":80.41,"h":80.52,"l":80.40,"c":80.47},
{"i":489,"o":80.47,"h":80.48,"l":80.29,"c":80.35},
{"i":490,"o":80.35,"h":80.46,"l":80.34,"c":80.46},
{"i":491,"o":80.52,"h":80.53,"l":80.37,"c":80.37},
{"i":492,"o":80.41,"h":80.53,"l":80.40,"c":80.53},
{"i":493,"o":80.51,"h":80.52,"l":80.41,"c":80.41},
{"i":494,"o":80.45,"h":80.57,"l":80.44,"c":80.55},
{"i":495,"o":80.55,"h":80.67,"l":80.54,"c":80.66},
{"i":496,"o":80.67,"h":80.68,"l":80.60,"c":80.60},
{"i":497,"o":80.56,"h":80.68,"l":80.55,"c":80.62},
{"i":498,"o":80.60,"h":80.61,"l":80.56,"c":80.56},
{"i":499,"o":80.61,"h":80.62,"l":80.50,"c":80.50},
{"i":500,"o":80.54,"h":80.55,"l":80.48,"c":80.48},
{"i":501,"o":80.49,"h":80.50,"l":80.38,"c":80.41},
{"i":502,"o":80.41,"h":80.43,"l":80.40,"c":80.42},
{"i":503,"o":80.42,"h":80.43,"l":80.38,"c":80.39},
{"i":504,"o":80.39,"h":80.59,"l":80.38,"c":80.58},
{"i":505,"o":80.58,"h":80.63,"l":80.57,"c":80.62},
{"i":506,"o":80.61,"h":80.77,"l":80.60,"c":80.74},
{"i":507,"o":80.64,"h":80.76,"l":80.63,"c":80.75},
{"i":508,"o":80.76,"h":80.92,"l":80.63,"c":80.64},
{"i":509,"o":80.59,"h":80.77,"l":80.49,"c":80.77},
{"i":510,"o":80.60,"h":80.84,"l":80.59,"c":80.83},
{"i":511,"o":80.83,"h":81.19,"l":80.82,"c":81.18},
{"i":512,"o":81.08,"h":81.19,"l":81.07,"c":81.18},
{"i":513,"o":81.14,"h":81.31,"l":81.13,"c":81.30},
{"i":514,"o":81.30,"h":81.36,"l":81.29,"c":81.35},
{"i":515,"o":81.35,"h":81.37,"l":81.34,"c":81.36},
{"i":516,"o":81.38,"h":81.39,"l":81.16,"c":81.33},
{"i":517,"o":81.37,"h":81.48,"l":81.36,"c":81.39},
{"i":518,"o":81.37,"h":81.38,"l":81.34,"c":81.34},
{"i":519,"o":81.35,"h":81.44,"l":81.34,"c":81.43},
{"i":520,"o":81.42,"h":81.63,"l":81.41,"c":81.62},
{"i":521,"o":81.62,"h":81.76,"l":81.61,"c":81.76},
{"i":522,"o":81.76,"h":81.86,"l":81.75,"c":81.85},
{"i":523,"o":81.85,"h":82.01,"l":81.84,"c":82.00},
{"i":524,"o":81.99,"h":82.14,"l":81.98,"c":82.09},
{"i":525,"o":82.09,"h":82.14,"l":81.88,"c":81.97},
{"i":526,"o":81.99,"h":82.00,"l":81.96,"c":81.96},
{"i":527,"o":82.01,"h":82.02,"l":81.82,"c":81.82},
{"i":528,"o":81.82,"h":81.83,"l":81.66,"c":81.66},
{"i":529,"o":81.66,"h":81.73,"l":81.59,"c":81.72},
{"i":530,"o":81.66,"h":81.72,"l":81.65,"c":81.71},
{"i":531,"o":81.71,"h":81.84,"l":81.70,"c":81.83},
{"i":532,"o":81.82,"h":81.88,"l":81.81,"c":81.87},
{"i":533,"o":81.86,"h":81.93,"l":81.85,"c":81.88},
{"i":534,"o":81.88,"h":81.89,"l":81.83,"c":81.83},
{"i":535,"o":81.83,"h":81.84,"l":81.72,"c":81.72},
{"i":536,"o":81.74,"h":81.75,"l":81.71,"c":81.71},
{"i":537,"o":81.72,"h":81.73,"l":81.71,"c":81.72},
{"i":538,"o":81.71,"h":81.74,"l":81.70,"c":81.73},
{"i":539,"o":81.74,"h":81.75,"l":81.72,"c":81.72},
{"i":540,"o":81.76,"h":81.86,"l":81.69,"c":81.69},
{"i":541,"o":81.74,"h":81.75,"l":81.68,"c":81.68},
{"i":542,"o":81.69,"h":81.76,"l":81.68,"c":81.75},
{"i":543,"o":81.73,"h":81.74,"l":81.67,"c":81.67},
{"i":544,"o":81.68,"h":81.69,"l":81.65,"c":81.65},
{"i":545,"o":81.65,"h":81.66,"l":81.57,"c":81.59},
{"i":546,"o":81.59,"h":81.64,"l":81.58,"c":81.63},
{"i":547,"o":81.63,"h":81.64,"l":81.60,"c":81.60},
{"i":548,"o":81.62,"h":81.63,"l":81.56,"c":81.58},
{"i":549,"o":81.60,"h":81.66,"l":81.59,"c":81.66},
{"i":550,"o":81.66,"h":81.67,"l":81.61,"c":81.61},
{"i":551,"o":81.60,"h":81.61,"l":81.57,"c":81.58},
{"i":552,"o":81.58,"h":81.62,"l":81.57,"c":81.61},
{"i":553,"o":81.62,"h":81.68,"l":81.62,"c":81.67}
]},
"layer":[
{"data":{"name":"bars"},
 "mark":{"type":"rule","color":"black","strokeWidth":1},
 "encoding":{
  "x":{"field":"i","type":"quantitative","scale":{"domain":[-0.75,940],"nice":false,"zero":false},"axis":{"orient":"bottom","values":[0,16,32,48,64,80,96,112,128,144,160,176,192,208,224,240,256,272,288,304,320,336,352,368,384,400,416,432,448,464,480,496,512,528,544,560,576,592,608,624,640,656,672,688,704,720,736,752,768,784,800,816,832,848,864,880,896,912,928]}},
  "y":{"field":"l","type":"quantitative","scale":{"domain":[79.2,84.2],"nice":false,"zero":false},"axis":{"orient":"right","format":".2f","values":[79.3,79.5,79.7,79.9,80.1,80.3,80.5,80.7,80.9,81.1,81.3,81.5,81.7,81.9,82.1,82.3,82.5,82.7,82.9,83.1,83.3,83.5,83.7,83.9,84.1]}},
  "y2":{"field":"h"}
 }},
{"data":{"name":"levels"},
 "mark":{"type":"rule"},
 "encoding":{
  "y":{"field":"p","type":"quantitative","scale":{"domain":[79.2,84.2],"nice":false,"zero":false},"axis":{"orient":"right","format":".2f","values":[79.3,79.5,79.7,79.9,80.1,80.3,80.5,80.7,80.9,81.1,81.3,81.5,81.7,81.9,82.1,82.3,82.5,82.7,82.9,83.1,83.3,83.5,83.7,83.9,84.1]}},
  "color":{"field":"lvl","type":"nominal","legend":null,"scale":{"domain":["price","+2/8","+1/8","RES","7/8","6/8","5/8","PIVOT","3/8","2/8","1/8","SUP","-1/8"],"range":["#c0c0c0","#c71585","#ff00ff","#1e90ff","#ff8c00","#ff4500","#556b2f","#1e90ff","#556b2f","#ff4500","#ff8c00","#1e90ff","#ff00ff"]}},
  "strokeDash":{"field":"kind","type":"nominal","legend":null,"scale":{"domain":["murrey","pivot","current"],"range":[[18,7],[1,0],[1,0]]}},
  "strokeWidth":{"field":"kind","type":"ordinal","legend":null,"scale":{"domain":["murrey","pivot","current"],"range":[1.6,1,1]}}
 }},
{"data":{"name":"bars"},
 "mark":{"type":"bar","width":2.5,"stroke":"black","strokeWidth":1},
 "encoding":{
  "x":{"field":"i","type":"quantitative","scale":{"domain":[-0.75,940],"nice":false,"zero":false},"axis":{"orient":"bottom","values":[0,16,32,48,64,80,96,112,128,144,160,176,192,208,224,240,256,272,288,304,320,336,352,368,384,400,416,432,448,464,480,496,512,528,544,560,576,592,608,624,640,656,672,688,704,720,736,752,768,784,800,816,832,848,864,880,896,912,928]}},
  "y":{"field":"o","type":"quantitative","scale":{"domain":[79.2,84.2],"nice":false,"zero":false},"axis":{"orient":"right","format":".2f","values":[79.3,79.5,79.7,79.9,80.1,80.3,80.5,80.7,80.9,81.1,81.3,81.5,81.7,81.9,82.1,82.3,82.5,82.7,82.9,83.1,83.3,83.5,83.7,83.9,84.1]}},
  "y2":{"field":"c"},
  "fill":{"condition":{"test":"datum.c > datum.o","value":"white"},"value":"black"}
 }},
{"data":{"name":"ticks"},
 "mark":{"type":"rule","color":"black","strokeWidth":1.2,"y2Offset":6},
 "encoding":{
  "x":{"field":"t","type":"quantitative","scale":{"domain":[-0.75,940],"nice":false,"zero":false},"axis":{"orient":"bottom","values":[0,16,32,48,64,80,96,112,128,144,160,176,192,208,224,240,256,272,288,304,320,336,352,368,384,400,416,432,448,464,480,496,512,528,544,560,576,592,608,624,640,656,672,688,704,720,736,752,768,784,800,816,832,848,864,880,896,912,928]}},
  "y":{"datum":79.2,"type":"quantitative","scale":{"domain":[79.2,84.2],"nice":false,"zero":false},"axis":{"orient":"right","format":".2f","values":[79.3,79.5,79.7,79.9,80.1,80.3,80.5,80.7,80.9,81.1,81.3,81.5,81.7,81.9,82.1,82.3,82.5,82.7,82.9,83.1,83.3,83.5,83.7,83.9,84.1]}},
  "y2":{"datum":79.2}
 }},
{"data":{"name":"ticks"},
 "mark":{"type":"text","align":"left","baseline":"top","dy":8,"fontSize":18,"color":"black"},
 "encoding":{
  "x":{"field":"t","type":"quantitative","scale":{"domain":[-0.75,940],"nice":false,"zero":false},"axis":{"orient":"bottom","values":[0,16,32,48,64,80,96,112,128,144,160,176,192,208,224,240,256,272,288,304,320,336,352,368,384,400,416,432,448,464,480,496,512,528,544,560,576,592,608,624,640,656,672,688,704,720,736,752,768,784,800,816,832,848,864,880,896,912,928]}},
  "y":{"datum":79.2,"type":"quantitative","scale":{"domain":[79.2,84.2],"nice":false,"zero":false},"axis":{"orient":"right","format":".2f","values":[79.3,79.5,79.7,79.9,80.1,80.3,80.5,80.7,80.9,81.1,81.3,81.5,81.7,81.9,82.1,82.3,82.5,82.7,82.9,83.1,83.3,83.5,83.7,83.9,84.1]}},
  "text":{"field":"name"}
 }},
{"data":{"name":"levels"},
 "mark":{"type":"text","align":"center","baseline":"top","dy":2,"fontSize":21},
 "encoding":{
  "x":{"datum":447.25,"type":"quantitative","scale":{"domain":[-0.75,940],"nice":false,"zero":false},"axis":{"orient":"bottom","values":[0,16,32,48,64,80,96,112,128,144,160,176,192,208,224,240,256,272,288,304,320,336,352,368,384,400,416,432,448,464,480,496,512,528,544,560,576,592,608,624,640,656,672,688,704,720,736,752,768,784,800,816,832,848,864,880,896,912,928]}},
  "y":{"field":"p","type":"quantitative","scale":{"domain":[79.2,84.2],"nice":false,"zero":false},"axis":{"orient":"right","format":".2f","values":[79.3,79.5,79.7,79.9,80.1,80.3,80.5,80.7,80.9,81.1,81.3,81.5,81.7,81.9,82.1,82.3,82.5,82.7,82.9,83.1,83.3,83.5,83.7,83.9,84.1]}},
  "text":{"field":"label"},
  "color":{"field":"lvl","type":"nominal","legend":null}
 }},
{"data":{"name":"signals"},
 "mark":{"type":"point","shape":"M-1,-1L1,1M-1,1L1,-1","size":1300,"filled":false,"stroke":"#e8413c","strokeWidth":5,"opacity":0.9},
 "encoding":{
  "x":{"field":"i","type":"quantitative","scale":{"domain":[-0.75,940],"nice":false,"zero":false},"axis":{"orient":"bottom","values":[0,16,32,48,64,80,96,112,128,144,160,176,192,208,224,240,256,272,288,304,320,336,352,368,384,400,416,432,448,464,480,496,512,528,544,560,576,592,608,624,640,656,672,688,704,720,736,752,768,784,800,816,832,848,864,880,896,912,928]}},
  "y":{"field":"p","type":"quantitative","scale":{"domain":[79.2,84.2],"nice":false,"zero":false},"axis":{"orient":"right","format":".2f","values":[79.3,79.5,79.7,79.9,80.1,80.3,80.5,80.7,80.9,81.1,81.3,81.5,81.7,81.9,82.1,82.3,82.5,82.7,82.9,83.1,83.3,83.5,83.7,83.9,84.1]}}
 }},
{"data":{"name":"levels"},
 "mark":{"type":"rect","yOffset":-11,"y2Offset":11},
 "encoding":{
  "x":{"datum":940.75,"type":"quantitative","scale":{"domain":[-0.75,940],"nice":false,"zero":false},"axis":{"orient":"bottom","values":[0,16,32,48,64,80,96,112,128,144,160,176,192,208,224,240,256,272,288,304,320,336,352,368,384,400,416,432,448,464,480,496,512,528,544,560,576,592,608,624,640,656,672,688,704,720,736,752,768,784,800,816,832,848,864,880,896,912,928]}},
  "x2":{"datum":955.75},
  "y":{"field":"p","type":"quantitative","scale":{"domain":[79.2,84.2],"nice":false,"zero":false},"axis":{"orient":"right","format":".2f","values":[79.3,79.5,79.7,79.9,80.1,80.3,80.5,80.7,80.9,81.1,81.3,81.5,81.7,81.9,82.1,82.3,82.5,82.7,82.9,83.1,83.3,83.5,83.7,83.9,84.1]}},
  "y2":{"field":"p"},
  "fill":{"field":"lvl","type":"nominal","legend":null,"scale":{"domain":["price","+2/8","+1/8","RES","7/8","6/8","5/8","PIVOT","3/8","2/8","1/8","SUP","-1/8"],"range":["#000000","#c71585","#ff00ff","#1e90ff","#ff8c00","#ff4500","#556b2f","#1e90ff","#556b2f","#ff4500","#ff8c00","#1e90ff","#ff00ff"]}}
 }},
{"data":{"name":"levels"},
 "mark":{"type":"text","align":"center","baseline":"middle","fontSize":19,"color":"white"},
 "encoding":{
  "x":{"datum":948.25,"type":"quantitative","scale":{"domain":[-0.75,940],"nice":false,"zero":false},"axis":{"orient":"bottom","values":[0,16,32,48,64,80,96,112,128,144,160,176,192,208,224,240,256,272,288,304,320,336,352,368,384,400,416,432,448,464,480,496,512,528,544,560,576,592,608,624,640,656,672,688,704,720,736,752,768,784,800,816,832,848,864,880,896,912,928]}},
  "y":{"field":"p","type":"quantitative","scale":{"domain":[79.2,84.2],"nice":false,"zero":false},"axis":{"orient":"right","format":".2f","values":[79.3,79.5,79.7,79.9,80.1,80.3,80.5,80.7,80.9,81.1,81.3,81.5,81.7,81.9,82.1,82.3,82.5,82.7,82.9,83.1,83.3,83.5,83.7,83.9,84.1]}},
  "text":{"field":"p","type":"quantitative","format":".2f"}
 }},
{"data":{"values":[{}]},
 "mark":{"type":"point","shape":"triangle-down","filled":true,"color":"black","size":55,"opacity":1},
 "encoding":{
  "x":{"datum":1.75,"type":"quantitative","scale":{"domain":[-0.75,940],"nice":false,"zero":false},"axis":{"orient":"bottom","values":[0,16,32,48,64,80,96,112,128,144,160,176,192,208,224,240,256,272,288,304,320,336,352,368,384,400,416,432,448,464,480,496,512,528,544,560,576,592,608,624,640,656,672,688,704,720,736,752,768,784,800,816,832,848,864,880,896,912,928]}},
  "y":{"datum":84.165,"type":"quantitative","scale":{"domain":[79.2,84.2],"nice":false,"zero":false},"axis":{"orient":"right","format":".2f","values":[79.3,79.5,79.7,79.9,80.1,80.3,80.5,80.7,80.9,81.1,81.3,81.5,81.7,81.9,82.1,82.3,82.5,82.7,82.9,83.1,83.3,83.5,83.7,83.9,84.1]}}
 }},
{"data":{"values":[{}]},
 "mark":{"type":"text","text":"Brent,M15\u00a0\u00a081.62 81.68 81.62 81.67","align":"left","baseline":"middle","fontSize":18.5,"color":"black"},
 "encoding":{
  "x":{"datum":6.6,"type":"quantitative","scale":{"domain":[-0.75,940],"nice":false,"zero":false},"axis":{"orient":"bottom","values":[0,16,32,48,64,80,96,112,128,144,160,176,192,208,224,240,256,272,288,304,320,336,352,368,384,400,416,432,448,464,480,496,512,528,544,560,576,592,608,624,640,656,672,688,704,720,736,752,768,784,800,816,832,848,864,880,896,912,928]}},
  "y":{"datum":84.161,"type":"quantitative","scale":{"domain":[79.2,84.2],"nice":false,"zero":false},"axis":{"orient":"right","format":".2f","values":[79.3,79.5,79.7,79.9,80.1,80.3,80.5,80.7,80.9,81.1,81.3,81.5,81.7,81.9,82.1,82.3,82.5,82.7,82.9,83.1,83.3,83.5,83.7,83.9,84.1]}}
 }}
]
}
